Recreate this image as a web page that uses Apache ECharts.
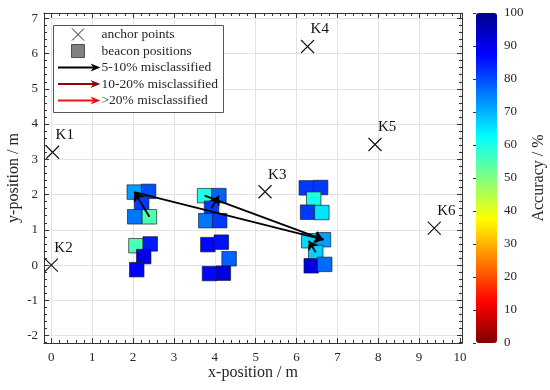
<!DOCTYPE html>
<html><head><meta charset="utf-8">
<script src="https://cdn.jsdelivr.net/npm/echarts@6/dist/echarts.min.js"></script>
<style>html,body{margin:0;padding:0;background:#fff}#c{width:550px;height:390px}</style>
</head><body><div id="c"></div>
<script>
// ---- data ----
const anchorNames = ['K1', 'K2', 'K3', 'K4', 'K5', 'K6'];
const anchorX = [0.03, 0.0, 5.23, 6.27, 7.92, 9.37];
const anchorY = [3.2, 0.0, 2.08, 6.2, 3.42, 1.05];

const beaconX = [2.03, 2.38, 2.21, 2.04, 2.40,   2.07, 2.42, 2.26, 2.09,
                 3.75, 4.10, 3.92, 3.78, 4.12,   3.83, 4.16, 4.35, 3.87, 4.21,
                 6.24, 6.59, 6.42, 6.27, 6.62,   6.30, 6.66, 6.47, 6.36, 6.69];
const beaconY = [2.07, 2.09, 1.75, 1.37, 1.37,   0.55, 0.60, 0.24, -0.13,
                 1.97, 1.97, 1.61, 1.26, 1.26,   0.58, 0.65, 0.18, -0.24, -0.23,
                 2.19, 2.20, 1.87, 1.50, 1.49,   0.69, 0.72, 0.36, -0.02, 0.02];
const beaconAcc = [72, 80, 82, 76, 55,   55, 85, 90, 88,
                   60, 78, 82, 76, 82,   87, 86, 78, 87, 91,
                   82, 82, 60, 82, 65,   66, 72, 67, 91, 77];

const arrowFromX = [2.40, 2.03, 3.92, 3.75, 6.47];
const arrowFromY = [1.37, 2.07, 1.61, 1.97, 0.36];
const arrowToX   = [2.03, 6.66, 4.10, 6.66, 6.30];
const arrowToY   = [2.07, 0.72, 1.97, 0.72, 0.69];
const arrowClass = [0, 0, 0, 0, 0];

const legendLabels = ['anchor points', 'beacon positions', '5-10% misclassified', '10-20% misclassified', '>20% misclassified'];
const arrowColors = ['#000000', '#8c0a0a', '#ee1111'];

const xLim = [-0.18, 10.05];
const yLim = [-2.21, 7.15];
const accLim = [0, 100];

// ---- layout ----
const FONT = 'Liberation Serif';
const TXT = '#262626';
const G = { left: 44, top: 13, width: 418, height: 330 };
const CB = { left: 476, top: 13, width: 21, height: 330 };

const jet = ['#800000', '#ff0000', '#ff8000', '#ffff00', '#80ff80', '#00ffff', '#0080ff', '#0000ff', '#00008f'];

function axisCommon(extra) {
  return Object.assign({
    type: 'value', gridIndex: 0,
    axisLine: { show: true, onZero: false, lineStyle: { color: '#333', width: 1 } },
    axisTick: { show: true, inside: true, length: 5, lineStyle: { color: '#333', width: 1 } },
    axisLabel: { show: false },
    splitLine: { show: false }
  }, extra);
}
const minorTick = { show: true, inside: true, length: 3, lineStyle: { color: '#333', width: 1 } };
const noLine = { show: false, onZero: false };
const lbl = { show: true, fontFamily: FONT, fontSize: 13, color: TXT, margin: 8, showMinLabel: false, showMaxLabel: false };
const titleStyle = { fontFamily: FONT, fontSize: 16, color: TXT };

const xAxes = [
  axisCommon({ min: xLim[0], max: xLim[1], splitNumber: 10, position: 'bottom', axisLabel: lbl,
    splitLine: { show: true, lineStyle: { color: '#e3e3e3', width: 1 } },
    name: 'x-position / m', nameLocation: 'middle', nameGap: 22, nameMoveOverlap: false, nameTextStyle: titleStyle }),
  axisCommon({ min: xLim[0], max: xLim[1], splitNumber: 51, position: 'bottom', axisLine: noLine, axisTick: minorTick }),
  axisCommon({ min: xLim[0], max: xLim[1], splitNumber: 10, position: 'top' }),
  axisCommon({ min: xLim[0], max: xLim[1], splitNumber: 51, position: 'top', axisLine: noLine, axisTick: minorTick }),
  { type: 'value', gridIndex: 1, min: 0, max: 1, show: false }
];
const yAxes = [
  axisCommon({ min: yLim[0], max: yLim[1], splitNumber: 9, position: 'left', axisLabel: Object.assign({}, lbl, { margin: 6 }),
    splitLine: { show: true, lineStyle: { color: '#e3e3e3', width: 1 } },
    name: 'y-position / m', nameLocation: 'middle', nameGap: 22, nameMoveOverlap: false, nameRotate: 90, nameTextStyle: titleStyle }),
  axisCommon({ min: yLim[0], max: yLim[1], splitNumber: 47, position: 'left', axisLine: noLine, axisTick: minorTick }),
  axisCommon({ min: yLim[0], max: yLim[1], splitNumber: 9, position: 'right' }),
  axisCommon({ min: yLim[0], max: yLim[1], splitNumber: 47, position: 'right', axisLine: noLine, axisTick: minorTick }),
  { type: 'value', gridIndex: 1, min: accLim[0], max: accLim[1], interval: 10, position: 'right',
    axisLine: { show: false }, splitLine: { show: false },
    axisTick: { show: true, inside: true, length: 3, lineStyle: { color: '#333' } },
    axisLabel: { fontFamily: FONT, fontSize: 13, color: TXT, margin: 7 },
    name: 'Accuracy / %', nameLocation: 'middle', nameGap: 34, nameRotate: 90, nameTextStyle: titleStyle }
];

const anchorData = anchorX.map((x, i) => ({ value: [x, anchorY[i]], name: anchorNames[i] }));
const beaconData = beaconX.map((x, i) => [x, beaconY[i], beaconAcc[i]]);
const arrowSeries = arrowColors.map((c, k) => ({
  type: 'lines', coordinateSystem: 'cartesian2d', xAxisIndex: 0, yAxisIndex: 0, z: 5,
  symbol: ['none', 'arrow'], symbolSize: 9,
  lineStyle: { color: c, width: 1.8, opacity: 1, curveness: 0 },
  silent: true,
  data: arrowFromX.map((x, i) => ({ cls: arrowClass[i], coords: [[x, arrowFromY[i]], [arrowToX[i], arrowToY[i]]] }))
        .filter(d => d.cls === k).map(d => ({ coords: d.coords }))
}));

// legend drawn as graphic
const LG = { x: 53, y: 25, w: 170, h: 87, row0: 9.5, dy: 16.5, sym: 25, tx: 48.5 };
const legendGraphics = [{ type: 'rect', shape: { x: LG.x + 0.5, y: LG.y + 0.5, width: LG.w, height: LG.h }, style: { fill: '#fff', stroke: '#555', lineWidth: 1 }, z: 10 }];
legendLabels.forEach((t, i) => {
  const cy = LG.y + LG.row0 + i * LG.dy;
  legendGraphics.push({ type: 'text', x: LG.x + LG.tx, y: cy, style: { text: t, font: '13.5px "' + FONT + '"', fill: TXT, textVerticalAlign: 'middle' }, z: 11 });
  const sx = LG.x + LG.sym;
  if (i === 0) {
    legendGraphics.push({ type: 'polyline', shape: { points: [[sx - 6, cy - 6], [sx + 6, cy + 6]] }, style: { stroke: '#222', lineWidth: 1 }, z: 11 });
    legendGraphics.push({ type: 'polyline', shape: { points: [[sx - 6, cy + 6], [sx + 6, cy - 6]] }, style: { stroke: '#222', lineWidth: 1 }, z: 11 });
  } else if (i === 1) {
    legendGraphics.push({ type: 'rect', shape: { x: sx - 6.5, y: cy - 6.5, width: 13, height: 13 }, style: { fill: '#808080', stroke: '#333', lineWidth: 0.8 }, z: 11 });
  } else {
    const c = arrowColors[i - 2];
    const x0 = LG.x + 5, x1 = LG.x + LG.tx - 1;
    legendGraphics.push({ type: 'line', shape: { x1: x0, y1: cy, x2: x1 - 6, y2: cy }, style: { stroke: c, lineWidth: 1.8 }, z: 11 });
    legendGraphics.push({ type: 'polygon', shape: { points: [[x1, cy], [x1 - 10, cy - 4], [x1 - 7, cy], [x1 - 10, cy + 4]] }, style: { fill: c }, z: 11 });
  }
});

const chart = echarts.init(document.getElementById('c'), null, { renderer: 'canvas' });
chart.setOption({
  animation: false,
  backgroundColor: '#fff',
  textStyle: { fontFamily: FONT },
  grid: [
    Object.assign({ containLabel: false, outerBoundsMode: 'none' }, G),
    Object.assign({ containLabel: false, outerBoundsMode: 'none' }, CB)
  ],
  xAxis: xAxes,
  yAxis: yAxes,
  visualMap: {
    type: 'continuous', min: accLim[0], max: accLim[1], dimension: 2, seriesIndex: 1,
    calculable: false, hoverLink: false, text: null, padding: 0,
    left: CB.left, top: CB.top, itemWidth: CB.width, itemHeight: CB.height,
    inRange: { color: jet }
  },
  graphic: legendGraphics,
  series: [
    {
      type: 'scatter', xAxisIndex: 0, yAxisIndex: 0, z: 3,
      symbol: 'path://M0 0L10 10M10 0L0 10', symbolSize: 13,
      itemStyle: { color: 'none', borderColor: '#111', borderWidth: 1.1, opacity: 1 },
      label: { show: true, formatter: p => p.name, position: [12, -15.5], align: 'left', verticalAlign: 'top',
        fontFamily: FONT, fontSize: 15, color: '#111', opacity: 1 },
      data: anchorData
    },
    {
      type: 'scatter', xAxisIndex: 0, yAxisIndex: 0, z: 4,
      symbol: 'rect', symbolSize: 14.5,
      itemStyle: { borderColor: 'rgba(20,30,40,0.85)', borderWidth: 0.8, opacity: 1 },
      data: beaconData
    }
  ].concat(arrowSeries)
});
</script></body></html>
